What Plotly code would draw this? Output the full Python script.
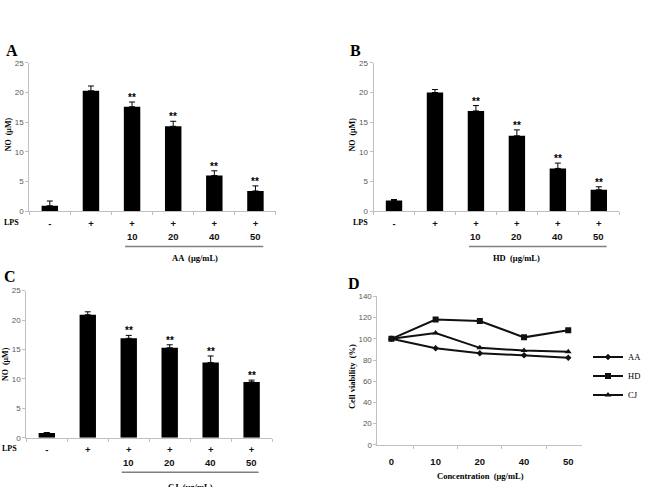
import plotly.graph_objects as go

W, H = 647, 487

# ---------------- data ----------------
lps_labels = ["-", "+", "+", "+", "+", "+"]
conc_labels = ["", "", "10", "20", "40", "50"]
aa_no = [0.9, 20.3, 17.6, 14.3, 6.0, 3.4]
aa_err = [0.8, 0.8, 0.8, 0.85, 0.8, 0.85]
hd_no = [1.8, 20.0, 16.9, 12.7, 7.2, 3.6]
hd_err = [0.15, 0.5, 0.9, 1.0, 0.9, 0.5]
cj_no = [0.8, 20.9, 16.9, 15.3, 12.8, 9.5]
cj_err = [0.1, 0.5, 0.5, 0.5, 1.1, 0.3]
sig = ["", "", "**", "**", "**", "**"]

conc_cats = ["0", "10", "20", "40", "50"]
via_aa = [100, 91.2, 86.5, 84.4, 82.2]
via_hd = [100, 118.2, 116.9, 101.4, 108.2]
via_cj = [100, 105.5, 91.5, 89.0, 87.8]


def px(x):
    return x / W


def py(y):
    return 1 - y / H


fig = go.Figure()

TICKFONT = dict(family="Liberation Sans", size=8, color="#595959")
CATFONT = dict(family="Liberation Sans", size=9.5, color="#111111")
SERIF_B = "Liberation Serif"
AXCOL = "#bfbfbf"

panels = [
    dict(ax="", vals=aa_no, errs=aa_err, xd=(30, 283), y0=211, yt=60,
         letter=(4, 47, "A"), ylab=(9, 133), lps=(12, 223), crow=237,
         under=(1.83, 5.19), utxt="AA  (μg/mL)", utx=200, uty=259, ulin=247),
    dict(ax="2", vals=hd_no, errs=hd_err, xd=(383, 635), y0=211, yt=60,
         letter=(357, 47, "B"), ylab=(361, 133), lps=(370, 223), crow=237,
         under=(1.83, 5.19), utxt="HD  (μg/mL)", utx=530, uty=259, ulin=247),
    dict(ax="3", vals=cj_no, errs=cj_err, xd=(27, 279), y0=442, yt=292,
         letter=(2, 278, "C"), ylab=(5, 367), lps=(10, 453), crow=467,
         under=(1.83, 5.17), utxt="CJ  (μg/mL)", utx=195, uty=492, ulin=477),
]

annotations = []
shapes = []

for p in panels:
    xa = "x" + p["ax"]
    ya = "y" + p["ax"]
    xs = list(range(len(p["vals"])))
    fig.add_trace(go.Bar(
        x=xs, y=p["vals"], xaxis=xa, yaxis=ya,
        marker=dict(color="black", line=dict(width=0)),
        error_y=dict(type="data", symmetric=False, array=p["errs"],
                     arrayminus=[0] * len(p["errs"]), color="black",
                     thickness=1, width=3),
        showlegend=False,
    ))
    n = len(xs)
    fig.layout["xaxis" + p["ax"]] = dict(
        domain=[px(p["xd"][0]), px(p["xd"][1])], anchor=ya,
        range=[-0.5, n - 0.5], tickmode="array", tickvals=xs,
        ticktext=["<b>" + t + "</b>" for t in lps_labels],
        showline=True, linecolor=AXCOL, linewidth=1,
        ticks="", ticklabelstandoff=3,
        minor=dict(tickmode="array", tickvals=[i - 0.5 for i in range(n + 1)],
                   ticks="outside", ticklen=3, tickcolor=AXCOL, showgrid=False),
        tickfont=CATFONT, showgrid=False, zeroline=False, fixedrange=True,
    )
    fig.layout["yaxis" + p["ax"]] = dict(
        domain=[py(p["y0"]), py(p["yt"])], anchor=xa, range=[0, 25],
        tickvals=[0, 5, 10, 15, 20, 25],
        showline=True, linecolor=AXCOL, linewidth=1,
        ticks="outside", ticklen=3, tickcolor=AXCOL, tickfont=TICKFONT,
        showgrid=False, zeroline=False, fixedrange=True,
    )
    for i, c in enumerate(conc_labels):
        if c:
            annotations.append(dict(
                x=i, y=py(p["crow"]), xref=xa, yref="paper", text="<b>" + c + "</b>",
                showarrow=False, xanchor="center", yanchor="middle",
                borderpad=0, font=CATFONT))
    for i, (v, e, s) in enumerate(zip(p["vals"], p["errs"], sig)):
        if s:
            annotations.append(dict(
                x=i, y=v + e, xref=xa, yref=ya, text="<b>" + s + "</b>",
                showarrow=False, yanchor="bottom", yshift=-3,
                font=dict(family="Liberation Sans", size=10, color="#000000")))
    lx, ly, lt = p["letter"]
    annotations.append(dict(x=px(lx), y=py(ly), xref="paper", yref="paper",
                            text="<b>" + lt + "</b>", showarrow=False,
                            xanchor="left", yanchor="middle",
                            font=dict(family=SERIF_B, size=16, color="black")))
    annotations.append(dict(x=px(p["ylab"][0]), y=py(p["ylab"][1]), xref="paper",
                            yref="paper", text="<b>NO  (μM)</b>", textangle=-90,
                            showarrow=False, xanchor="center", yanchor="middle",
                            font=dict(family=SERIF_B, size=8, color="black")))
    annotations.append(dict(x=px(p["lps"][0]), y=py(p["lps"][1]), xref="paper",
                            yref="paper", text="<b>LPS</b>", showarrow=False,
                            xanchor="center", yanchor="middle",
                            font=dict(family=SERIF_B, size=8, color="black")))
    shapes.append(dict(type="line", xref=xa, yref="paper",
                       x0=p["under"][0], x1=p["under"][1],
                       y0=py(p["ulin"]), y1=py(p["ulin"]),
                       line=dict(color="#7f7f7f", width=1.5)))
    annotations.append(dict(x=px(p["utx"]), y=py(p["uty"]), xref="paper",
                            yref="paper", text="<b>" + p["utxt"] + "</b>",
                            showarrow=False, xanchor="center", yanchor="middle",
                            font=dict(family=SERIF_B, size=8.5, color="black")))

# ---------------- panel D ----------------
series = [("AA", via_aa, "diamond", 5), ("HD", via_hd, "square", 6),
          ("CJ", via_cj, "triangle-up", 6)]
for name, vals, sym, ms in series:
    fig.add_trace(go.Scatter(
        x=conc_cats, y=vals, xaxis="x4", yaxis="y4", name=name,
        mode="lines+markers",
        line=dict(color="#111111", width=2),
        marker=dict(symbol=sym, size=ms, color="#111111"),
    ))

fig.layout["xaxis4"] = dict(
    domain=[px(387), px(597)], anchor="y4", type="category",
    categoryorder="array", categoryarray=conc_cats,
    ticktext=["<b>" + c + "</b>" for c in conc_cats], tickvals=conc_cats,
    showline=True, linecolor=AXCOL, linewidth=1,
    ticks="outside", tickson="boundaries", ticklen=3, tickcolor=AXCOL,
    ticklabelstandoff=8,
    tickfont=CATFONT, showgrid=False, zeroline=False, fixedrange=True,
)
fig.layout["yaxis4"] = dict(
    domain=[py(449), py(298)], anchor="x4", range=[0, 140],
    tickvals=[0, 20, 40, 60, 80, 100, 120, 140],
    showline=True, linecolor=AXCOL, linewidth=1,
    ticks="outside", ticklen=3, tickcolor=AXCOL, tickfont=TICKFONT,
    showgrid=False, zeroline=False, fixedrange=True,
)
annotations.append(dict(x=px(355), y=py(285), xref="paper", yref="paper",
                        text="<b>D</b>", showarrow=False, xanchor="left",
                        yanchor="middle",
                        font=dict(family=SERIF_B, size=16, color="black")))
annotations.append(dict(x=px(361), y=py(380), xref="paper", yref="paper",
                        text="<b>Cell viability  (%)</b>", textangle=-90,
                        showarrow=False, xanchor="center", yanchor="middle",
                        font=dict(family=SERIF_B, size=8.5, color="black")))
annotations.append(dict(x=px(493), y=py(481), xref="paper", yref="paper",
                        text="<b>Concentration  (μg/mL)</b>", showarrow=False,
                        xanchor="center", yanchor="middle",
                        font=dict(family=SERIF_B, size=8.5, color="black")))

fig.update_layout(
    width=W, height=H, margin=dict(l=0, r=0, t=0, b=0),
    paper_bgcolor="white", plot_bgcolor="white",
    bargap=0.6, annotations=annotations, shapes=shapes,
    showlegend=True,
    legend=dict(x=px(603), y=py(345), xanchor="left", yanchor="top",
                font=dict(family=SERIF_B, size=8.5, color="black"),
                bgcolor="rgba(0,0,0,0)", tracegroupgap=0, itemwidth=30),
)

fig.write_html("out.html")
